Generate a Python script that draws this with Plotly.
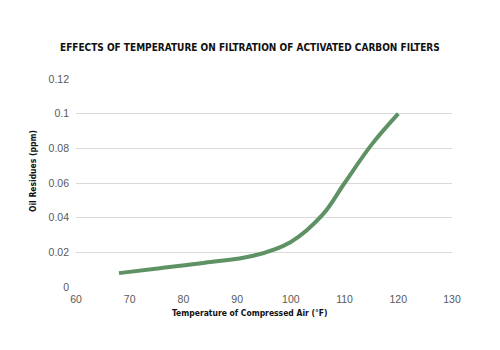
import plotly.graph_objects as go

temps = [68, 76, 84, 93, 100, 106, 110, 115, 120]
residues = [0.008, 0.011, 0.014, 0.018, 0.026, 0.042, 0.06, 0.082, 0.1]
x_ticks = [60, 70, 80, 90, 100, 110, 120, 130]
y_ticks = [0, 0.02, 0.04, 0.06, 0.08, 0.1, 0.12]
y_labels = ["0", "0.02", "0.04", "0.06", "0.08", "0.1", "0.12"]

L, R, T, B = 76, 48, 79, 63
W, H = 500, 350
pw, ph = W - L - R, H - T - B

def px2paper(px, py):
    return (px - L) / pw, 1 - (py - T) / ph

fig = go.Figure()
fig.add_trace(go.Scatter(
    x=temps, y=residues, mode="lines",
    line=dict(color="#5e9264", width=4, shape="spline", smoothing=1.0),
    showlegend=False, hoverinfo="skip",
))

tick_font = dict(family="Liberation Sans, Arial, sans-serif", size=10.5, color="#595959")
bold_font = "DejaVu Sans Condensed, Liberation Sans Narrow, Arial Narrow, sans-serif"

annots = []
for text, (x, y), size, angle in [
    ("<b>EFFECTS OF TEMPERATURE ON FILTRATION OF ACTIVATED CARBON FILTERS</b>", (250, 47), 10, 0),
    ("<b>Temperature of Compressed Air (°F)</b>", (250, 313), 8.5, 0),
    ("<b>Oil Residues (ppm)</b>", (33, 171), 8.5, -90),
]:
    ax, ay = px2paper(x, y)
    annots.append(dict(text=text, x=ax, y=ay, xref="paper", yref="paper",
                       xanchor="center", yanchor="middle", showarrow=False,
                       textangle=angle,
                       font=dict(family=bold_font, size=size, color="#111111")))

fig.update_layout(
    width=W, height=H,
    margin=dict(l=L, r=R, t=T, b=B),
    paper_bgcolor="white", plot_bgcolor="white",
    xaxis=dict(range=[60, 130], tickvals=x_ticks, showgrid=False, zeroline=False,
               showline=False, ticks="", tickfont=tick_font, ticklabelstandoff=4),
    yaxis=dict(range=[0, 0.12], tickvals=y_ticks, ticktext=y_labels, showgrid=True,
               gridcolor="#d9d9d9", gridwidth=1, zeroline=False, showline=False,
               ticks="", tickfont=tick_font, ticklabelstandoff=6),
    annotations=annots,
)

fig.write_html("out.html")
